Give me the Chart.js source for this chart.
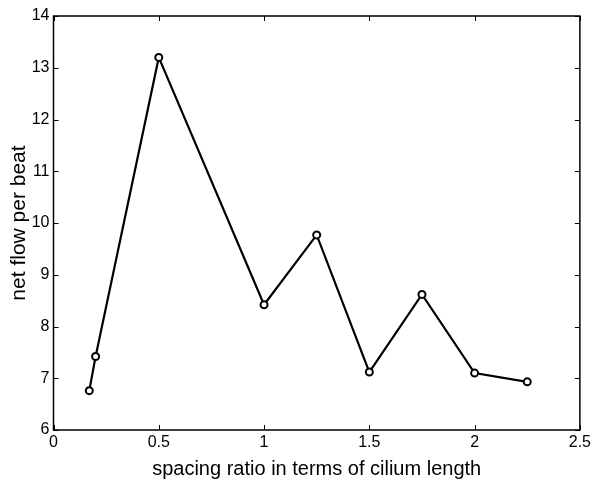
<!DOCTYPE html>
<html>
<head>
<meta charset="utf-8">
<script src="https://cdn.jsdelivr.net/npm/chart.js@4"></script>
<style>
  html, body { margin: 0; padding: 0; background: #fff; }
  #wrap { width: 594px; height: 482px; }
</style>
</head>
<body>
<div id="wrap"><canvas id="flow-chart" width="594" height="482"></canvas></div>
<script>
// values
const spacingRatio = [0.17, 0.2, 0.5, 1, 1.25, 1.5, 1.75, 2, 2.25];
const netFlow = [6.76, 7.42, 13.2, 8.42, 9.77, 7.12, 8.62, 7.1, 6.93];
const xTicks = [0, 0.5, 1, 1.5, 2, 2.5];
const yTicks = [6, 7, 8, 9, 10, 11, 12, 13, 14];

const fontFamily = '"Liberation Sans", Arial, Helvetica, sans-serif';

// matlab-style box with ticks pointing inward on all four sides
const boxTicks = {
  id: 'boxTicks',
  afterDraw(chart) {
    const { ctx, chartArea: a, scales } = chart;
    const len = 5;
    ctx.save();
    ctx.strokeStyle = '#000';
    ctx.lineWidth = 1;
    ctx.beginPath();
    xTicks.forEach(v => {
      const px = Math.round(scales.x.getPixelForValue(v)) + 0.5;
      ctx.moveTo(px, a.bottom); ctx.lineTo(px, a.bottom - len);
      ctx.moveTo(px, a.top); ctx.lineTo(px, a.top + len);
    });
    yTicks.forEach(v => {
      const py = Math.round(scales.y.getPixelForValue(v)) + 0.5;
      ctx.moveTo(a.left, py); ctx.lineTo(a.left + len, py);
      ctx.moveTo(a.right, py); ctx.lineTo(a.right - len, py);
    });
    ctx.stroke();
    ctx.lineWidth = 1.5;
    ctx.strokeRect(a.left, a.top, a.right - a.left, a.bottom - a.top);
    ctx.restore();
  }
};

const ctx = document.getElementById('flow-chart');
new Chart(ctx, {
  type: 'scatter',
  data: {
    datasets: [
      {
        label: 'net flow',
        data: spacingRatio.map((x, i) => ({ x: x, y: netFlow[i] })),
        showLine: true,
        borderColor: '#000',
        borderWidth: 2.2,
        pointRadius: 3.5,
        pointBorderWidth: 2,
        pointBackgroundColor: '#fff',
        pointBorderColor: '#000',
        tension: 0,
      },
    ],
  },
  options: {
    responsive: false,
    animation: false,
    devicePixelRatio: 1,
    layout: { padding: { top: 16, right: 13, left: 0, bottom: 0 } },
    plugins: {
      legend: { display: false },
      tooltip: { enabled: false },
    },
    scales: {
      x: {
        type: 'linear',
        min: 0,
        max: 2.5,
        afterBuildTicks: (axis) => { axis.ticks = xTicks.map(v => ({ value: v })); },
        afterFit: (axis) => { axis.height = 52; },
        grid: { drawOnChartArea: false, drawTicks: false },
        border: { display: false },
        ticks: {
          color: '#000',
          padding: 3,
          maxRotation: 0,
          font: { family: fontFamily, size: 16 },
          callback: (v) => String(v),
        },
        title: {
          display: true,
          text: 'spacing ratio in terms of cilium length',
          color: '#000',
          padding: { top: 0, bottom: 1 },
          font: { family: fontFamily, size: 20 },
        },
      },
      y: {
        type: 'linear',
        min: 6,
        max: 14,
        afterBuildTicks: (axis) => { axis.ticks = yTicks.map(v => ({ value: v })); },
        afterFit: (axis) => { axis.width = 53.5; },
        grid: { drawOnChartArea: false, drawTicks: false },
        border: { display: false },
        ticks: {
          color: '#000',
          padding: 4,
          font: { family: fontFamily, size: 16 },
        },
        title: {
          display: true,
          text: 'net flow per beat',
          color: '#000',
          padding: { top: 7, bottom: 0 },
          font: { family: fontFamily, size: 21 },
        },
      },
    },
  },
  plugins: [boxTicks],
});
</script>
</body>
</html>
